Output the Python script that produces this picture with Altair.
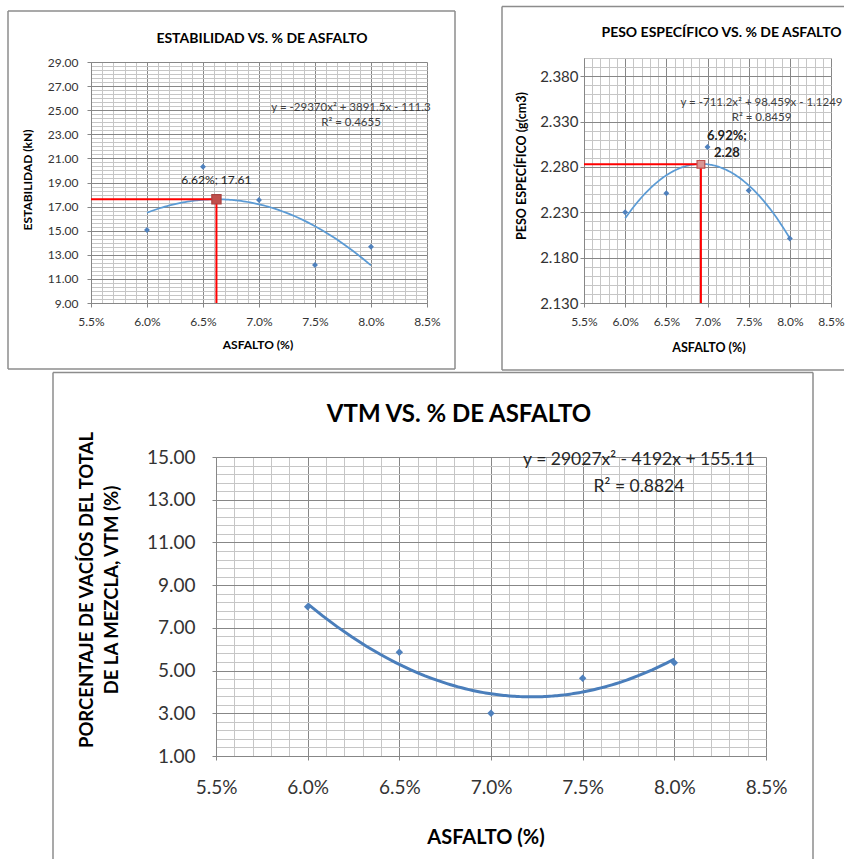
import altair as alt
import pandas as pd

FONT = "Lato"

# ---------------- data ----------------
ASFALTO = [0.060, 0.065, 0.070, 0.075, 0.080]
ESTABILIDAD = [15.06, 20.31, 17.55, 12.15, 13.67]
PESO_ESPECIFICO = [2.230, 2.251, 2.302, 2.254, 2.201]
VTM = [7.99, 5.86, 3.00, 4.64, 5.37]

OPTIMO_A_X = [0.0662]
OPTIMO_A_Y = [17.61]
OPTIMO_A_TXT = ["6.62%; 17.61"]
OPTIMO_B_X = [0.0692]
OPTIMO_B_Y = [2.2828]
OPTIMO_B_TXT = ["6.92%;\n2.28"]

X_DOMAIN = [0.055, 0.085]
X_TICKS = [0.055, 0.060, 0.065, 0.070, 0.075, 0.080, 0.085]
Y_DOMAIN_A = [9, 29]
Y_TICKS_A = [9, 11, 13, 15, 17, 19, 21, 23, 25, 27, 29]
Y_DOMAIN_B = [2.13, 2.40]
Y_TICKS_B = [2.13, 2.18, 2.23, 2.28, 2.33, 2.38]
Y_DOMAIN_C = [1, 15]
Y_TICKS_C = [1, 3, 5, 7, 9, 11, 13, 15]

TITULO_A = "ESTABILIDAD VS. % DE ASFALTO"
TITULO_B = "PESO ESPECÍFICO VS. % DE ASFALTO"
TITULO_C = "VTM VS. % DE ASFALTO"
EJE_X = "ASFALTO (%)"
EJE_Y_A = "ESTABILIDAD (kN)"
EJE_Y_B = "PESO ESPECÍFICO (g(cm3)"
EJE_Y_C = "PORCENTAJE DE VACÍOS DEL TOTAL\nDE LA MEZCLA, VTM (%)"
ECUACION_A = "y = -29370x² + 3891.5x - 111.3\nR² = 0.4655"
ECUACION_B = "y = -711.2x² + 98.459x - 1.1249\nR² = 0.8459"
ECUACION_C = "y = 29027x² - 4192x + 155.11\nR² = 0.8824"

# minor grid steps (axis configuration)
X_MINOR = [round(0.055 + i * 0.001, 4) for i in range(31)]
Y_MINOR_A = [round(9 + i * 2 / 6, 4) for i in range(61)]
Y_MINOR_B = [round(2.13 + i * 0.01, 3) for i in range(28)]
Y_MINOR_C = [round(1 + i * 0.4, 2) for i in range(36)]

MAJOR = "#878787"
MINOR = "#c6c6c6"
BORDER = "#8c8c8c"
LABEL = "#333333"
PT = "#4F81BD"
RED = "#FF0000"


def one():
    return pd.DataFrame({"a": [0]})


def txt(s, x, y, size, bold=False, angle=None, color="#000000", lh=None):
    kw = dict(font=FONT, fontSize=size, fontWeight="bold" if bold else "normal",
              color=color, align="center", baseline="middle", lineBreak="\n")
    if angle is not None:
        kw["angle"] = angle
    if lh is not None:
        kw["lineHeight"] = lh
    return alt.Chart(pd.DataFrame({"t": [s]})).mark_text(**kw).encode(
        x=alt.value(x), y=alt.value(y), text="t:N")


def anchor(x1, x2, y1, y2):
    return alt.Chart(one()).mark_rect(fill="white", opacity=0).encode(
        x=alt.value(x1), x2=alt.value(x2), y=alt.value(y1), y2=alt.value(y2))


def spacer():
    return anchor(0, 1, 0, 1).properties(width=1, height=1)


def hrule(x1, x2, y, color=BORDER, w=1.5):
    return alt.Chart(one()).mark_rule(color=color, strokeWidth=w).encode(
        x=alt.value(x1), x2=alt.value(x2), y=alt.value(y))


def vrule(x, y1, y2, color=BORDER, w=1.5):
    return alt.Chart(one()).mark_rule(color=color, strokeWidth=w).encode(
        x=alt.value(x), y=alt.value(y1), y2=alt.value(y2))


def base_layers(yvals, ydom, yticks, yfmt, yminor, xlab, ylab, xpad, ypad,
                pt_size, line_color, line_w):
    df = pd.DataFrame({"asfalto": ASFALTO, "valor": yvals})
    xs = alt.Scale(domain=X_DOMAIN, nice=False, zero=False)
    ys = alt.Scale(domain=ydom, nice=False, zero=False)
    minor = alt.Chart(df).mark_point(opacity=0).encode(
        x=alt.X("asfalto:Q", scale=xs, axis=alt.Axis(
            orient="top", values=X_MINOR, grid=True, gridColor=MINOR, gridWidth=1,
            labels=False, ticks=False, domain=False, title=None)),
        y=alt.Y("valor:Q", scale=ys, axis=alt.Axis(
            orient="right", values=yminor, grid=True, gridColor=MINOR, gridWidth=1,
            labels=False, ticks=False, domain=False, title=None)))
    trend = alt.Chart(df).transform_regression(
        "asfalto", "valor", method="poly", order=2
    ).mark_line(color=line_color, strokeWidth=line_w).encode(
        x=alt.X("asfalto:Q", scale=xs, axis=alt.Axis(
            orient="bottom", values=X_TICKS, format=".1%", grid=True, gridColor=MAJOR,
            domainColor=MAJOR, tickColor=MAJOR, tickSize=4, labelFont=FONT,
            labelFontSize=xlab, labelColor=LABEL, labelPadding=xpad, labelFlush=False,
            labelOverlap=False, labelBound=False, title=None)),
        y=alt.Y("valor:Q", scale=ys, axis=alt.Axis(
            orient="left", values=yticks, format=yfmt, grid=True, gridColor=MAJOR,
            domainColor=MAJOR, tickColor=MAJOR, tickSize=4, labelFont=FONT,
            labelFontSize=ylab, labelColor=LABEL, labelPadding=ypad, labelFlush=False,
            labelOverlap=False, labelBound=False, title=None)))
    points = alt.Chart(df).mark_point(shape="diamond", filled=True, color=PT,
                                      size=pt_size, opacity=1).encode(
        x=alt.X("asfalto:Q", scale=xs, axis=None),
        y=alt.Y("valor:Q", scale=ys, axis=None))
    return xs, ys, [minor, trend, points]


def optimum_layers(xs, ys, ox, oy, label, h, fill, stroke, msize, lab_kw):
    dfo = pd.DataFrame({"ox": ox, "oy": oy, "lab": label})
    hl = alt.Chart(dfo).mark_rule(color=RED, strokeWidth=2).encode(
        x=alt.X("ox:Q", scale=xs, axis=None), x2=alt.value(0),
        y=alt.Y("oy:Q", scale=ys, axis=None))
    vl = alt.Chart(dfo).mark_rule(color=RED, strokeWidth=2).encode(
        x=alt.X("ox:Q", scale=xs, axis=None),
        y=alt.Y("oy:Q", scale=ys, axis=None), y2=alt.value(h))
    mk = alt.Chart(dfo).mark_square(fill=fill, stroke=stroke, strokeWidth=1.2,
                                    size=msize, opacity=1).encode(
        x=alt.X("ox:Q", scale=xs, axis=None), y=alt.Y("oy:Q", scale=ys, axis=None))
    lb = alt.Chart(dfo).mark_text(font=FONT, align="center", baseline="middle",
                                  lineBreak="\n", **lab_kw).encode(
        x=alt.X("ox:Q", scale=xs, axis=None), y=alt.Y("oy:Q", scale=ys, axis=None),
        text="lab:N")
    return [hl, vl, mk, lb]


# ---------------- panel A (plot origin at 91,62) ----------------
WA, HA = 336, 241
xsA, ysA, layA = base_layers(ESTABILIDAD, Y_DOMAIN_A, Y_TICKS_A, ".2f", Y_MINOR_A,
                             12, 12, 9, 9, 35, "#5B9BD5", 1.75)
panelA = alt.layer(
    anchor(-90, 387, -61, 309),
    *layA,
    *optimum_layers(xsA, ysA, OPTIMO_A_X, OPTIMO_A_Y, OPTIMO_A_TXT, HA,
                    "#C0504D", "#A94442", 85,
                    dict(fontSize=12, color="#222222", dy=-19)),
    vrule(-83, -51, 307), vrule(364, -51, 307), hrule(-83, 364, -51), hrule(-83, 364, 307),
    txt(TITULO_A, 171, -23, 14, bold=True),
    txt(EJE_Y_A, -63, 118, 12, bold=True, angle=270),
    txt(EJE_X, 167, 283, 12, bold=True),
    txt(ECUACION_A, 260, 46, 11.5, color="#404040", lh=15),
).resolve_axis(x="independent", y="independent").properties(width=WA, height=HA)

# ---------------- panel B (plot origin at 584,58) ----------------
WB, HB = 247, 245
xsB, ysB, layB = base_layers(PESO_ESPECIFICO, Y_DOMAIN_B, Y_TICKS_B, ".3f", Y_MINOR_B,
                             12, 15, 9, 2, 35, "#5B9BD5", 1.75)
panelB = alt.layer(
    anchor(-106, 261, -57, 313),
    *layB,
    *optimum_layers(xsB, ysB, OPTIMO_B_X, OPTIMO_B_Y, OPTIMO_B_TXT, HB,
                    "#D99694", "#C0504D", 60,
                    dict(fontSize=13, fontWeight="bold", color="#222222",
                         dx=26, dy=-28, lineHeight=17)),
    vrule(-82, -51.5, 312), hrule(-82, 260, -51.5), hrule(-82, 260, 312),
    txt(TITULO_B, 137.5, -25, 14, bold=True),
    txt(EJE_Y_B, -62, 108, 12.5, bold=True, angle=270),
    txt(EJE_X, 125, 290, 12.5, bold=True),
    txt(ECUACION_B, 177.5, 45, 11.5, color="#404040", lh=15),
).resolve_axis(x="independent", y="independent").properties(width=WB, height=HB)

# ---------------- panel C (plot origin at 216,457) ----------------
WC, HC = 550, 299
xsC, ysC, layC = base_layers(VTM, Y_DOMAIN_C, Y_TICKS_C, ".2f", Y_MINOR_C,
                             19, 19, 18, 17, 55, "#4A7EBB", 3)
panelC = alt.layer(
    anchor(-215, 629, -86, 403),
    *layC,
    vrule(-163, -84.5, 402), vrule(597, -84.5, 402), hrule(-163, 597, -84.5),
    txt(TITULO_C, 243, -42, 24, bold=True),
    txt(EJE_Y_C, -129, 133, 18.5, bold=True, angle=270, lh=25),
    txt(EJE_X, 270, 381, 20, bold=True),
    txt(ECUACION_C, 423, 3, 17.5, color="#262626", lh=27),
).resolve_axis(x="independent", y="independent").properties(width=WC, height=HC)

top_row = alt.hconcat(
    spacer(),
    alt.vconcat(spacer(), panelA, spacing=0),
    alt.vconcat(spacer(), panelB, spacing=0),
    spacing=0,
)
bottom_row = alt.hconcat(spacer(), panelC, spacing=0)

chart = alt.vconcat(
    top_row,
    bottom_row,
    spacing=0,
    padding={"left": 0, "top": 0, "right": 0, "bottom": 0},
    autosize=alt.AutoSizeParams(type="pad"),
).configure(
    background="white", padding={"left": 0, "top": 0, "right": 0, "bottom": 0}
).configure_view(stroke=None)

chart.save("out.html", embed_options={"renderer": "svg", "actions": False})
